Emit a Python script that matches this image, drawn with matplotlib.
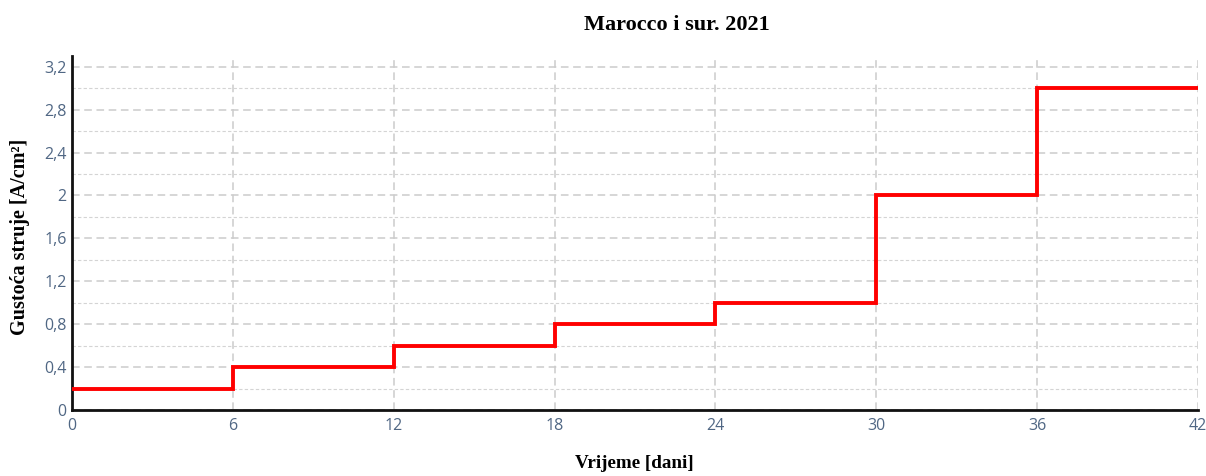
import matplotlib.pyplot as plt
import numpy as np
from matplotlib.ticker import MultipleLocator, FuncFormatter

# step data: current density held for each interval of days
days = [0, 6, 12, 18, 24, 30, 36, 42]
density = [0.2, 0.4, 0.6, 0.8, 1.0, 2.0, 3.0, 3.0]

fig = plt.figure(figsize=(12.06, 4.76), dpi=100)
ax = fig.add_axes([72/1206, 66/476, (1198-72)/1206, (410-56)/476])

ax.step(days, density, where='post', color='#ff0000', lw=2.8, zorder=3,
        solid_joinstyle='miter')

ax.set_xlim(0, 42)
ax.set_ylim(0, 3.3)
ax.xaxis.set_major_locator(MultipleLocator(6))
ax.yaxis.set_major_locator(MultipleLocator(0.4))
ax.yaxis.set_minor_locator(MultipleLocator(0.2))

# comma as decimal separator
def comma_fmt(v, pos):
    s = f'{v:.1f}'.rstrip('0').rstrip('.')
    return s.replace('.', ',')
ax.yaxis.set_major_formatter(FuncFormatter(comma_fmt))
ax.xaxis.set_major_formatter(FuncFormatter(lambda v, p: f'{int(v)}'))

ax.grid(which='major', color='#cccccc', ls=(0, (5, 3)), lw=1.1)
ax.grid(which='minor', axis='y', color='#d4d4d4', ls=(0, (3, 2)), lw=0.8)
ax.set_axisbelow(True)

for s in ['top', 'right']:
    ax.spines[s].set_visible(False)
for s in ['left', 'bottom']:
    ax.spines[s].set_linewidth(2)
    ax.spines[s].set_color('#111111')

ax.tick_params(which='both', length=0, labelsize=11.5, labelcolor='#506784',
               pad=4)
ax.tick_params(axis='x', pad=6)
for lbl in ax.get_xticklabels() + ax.get_yticklabels():
    lbl.set_family('Open Sans')

fig.text(677/1206, 1 - 25/476, 'Marocco i sur. 2021', ha='center', va='center',
         fontsize=16, fontweight='bold', family='Liberation Serif')
fig.text(634/1206, 1 - 464/476, 'Vrijeme [dani]', ha='center', va='center',
         fontsize=13.8, fontweight='bold', family='Liberation Serif')
fig.text(20/1206, 1 - 237/476, 'Gustoća struje [A/cm²]', ha='center', va='center',
         rotation=90, fontsize=14.5, fontweight='bold', family='Liberation Serif')

fig.savefig('out.png', dpi=100)
